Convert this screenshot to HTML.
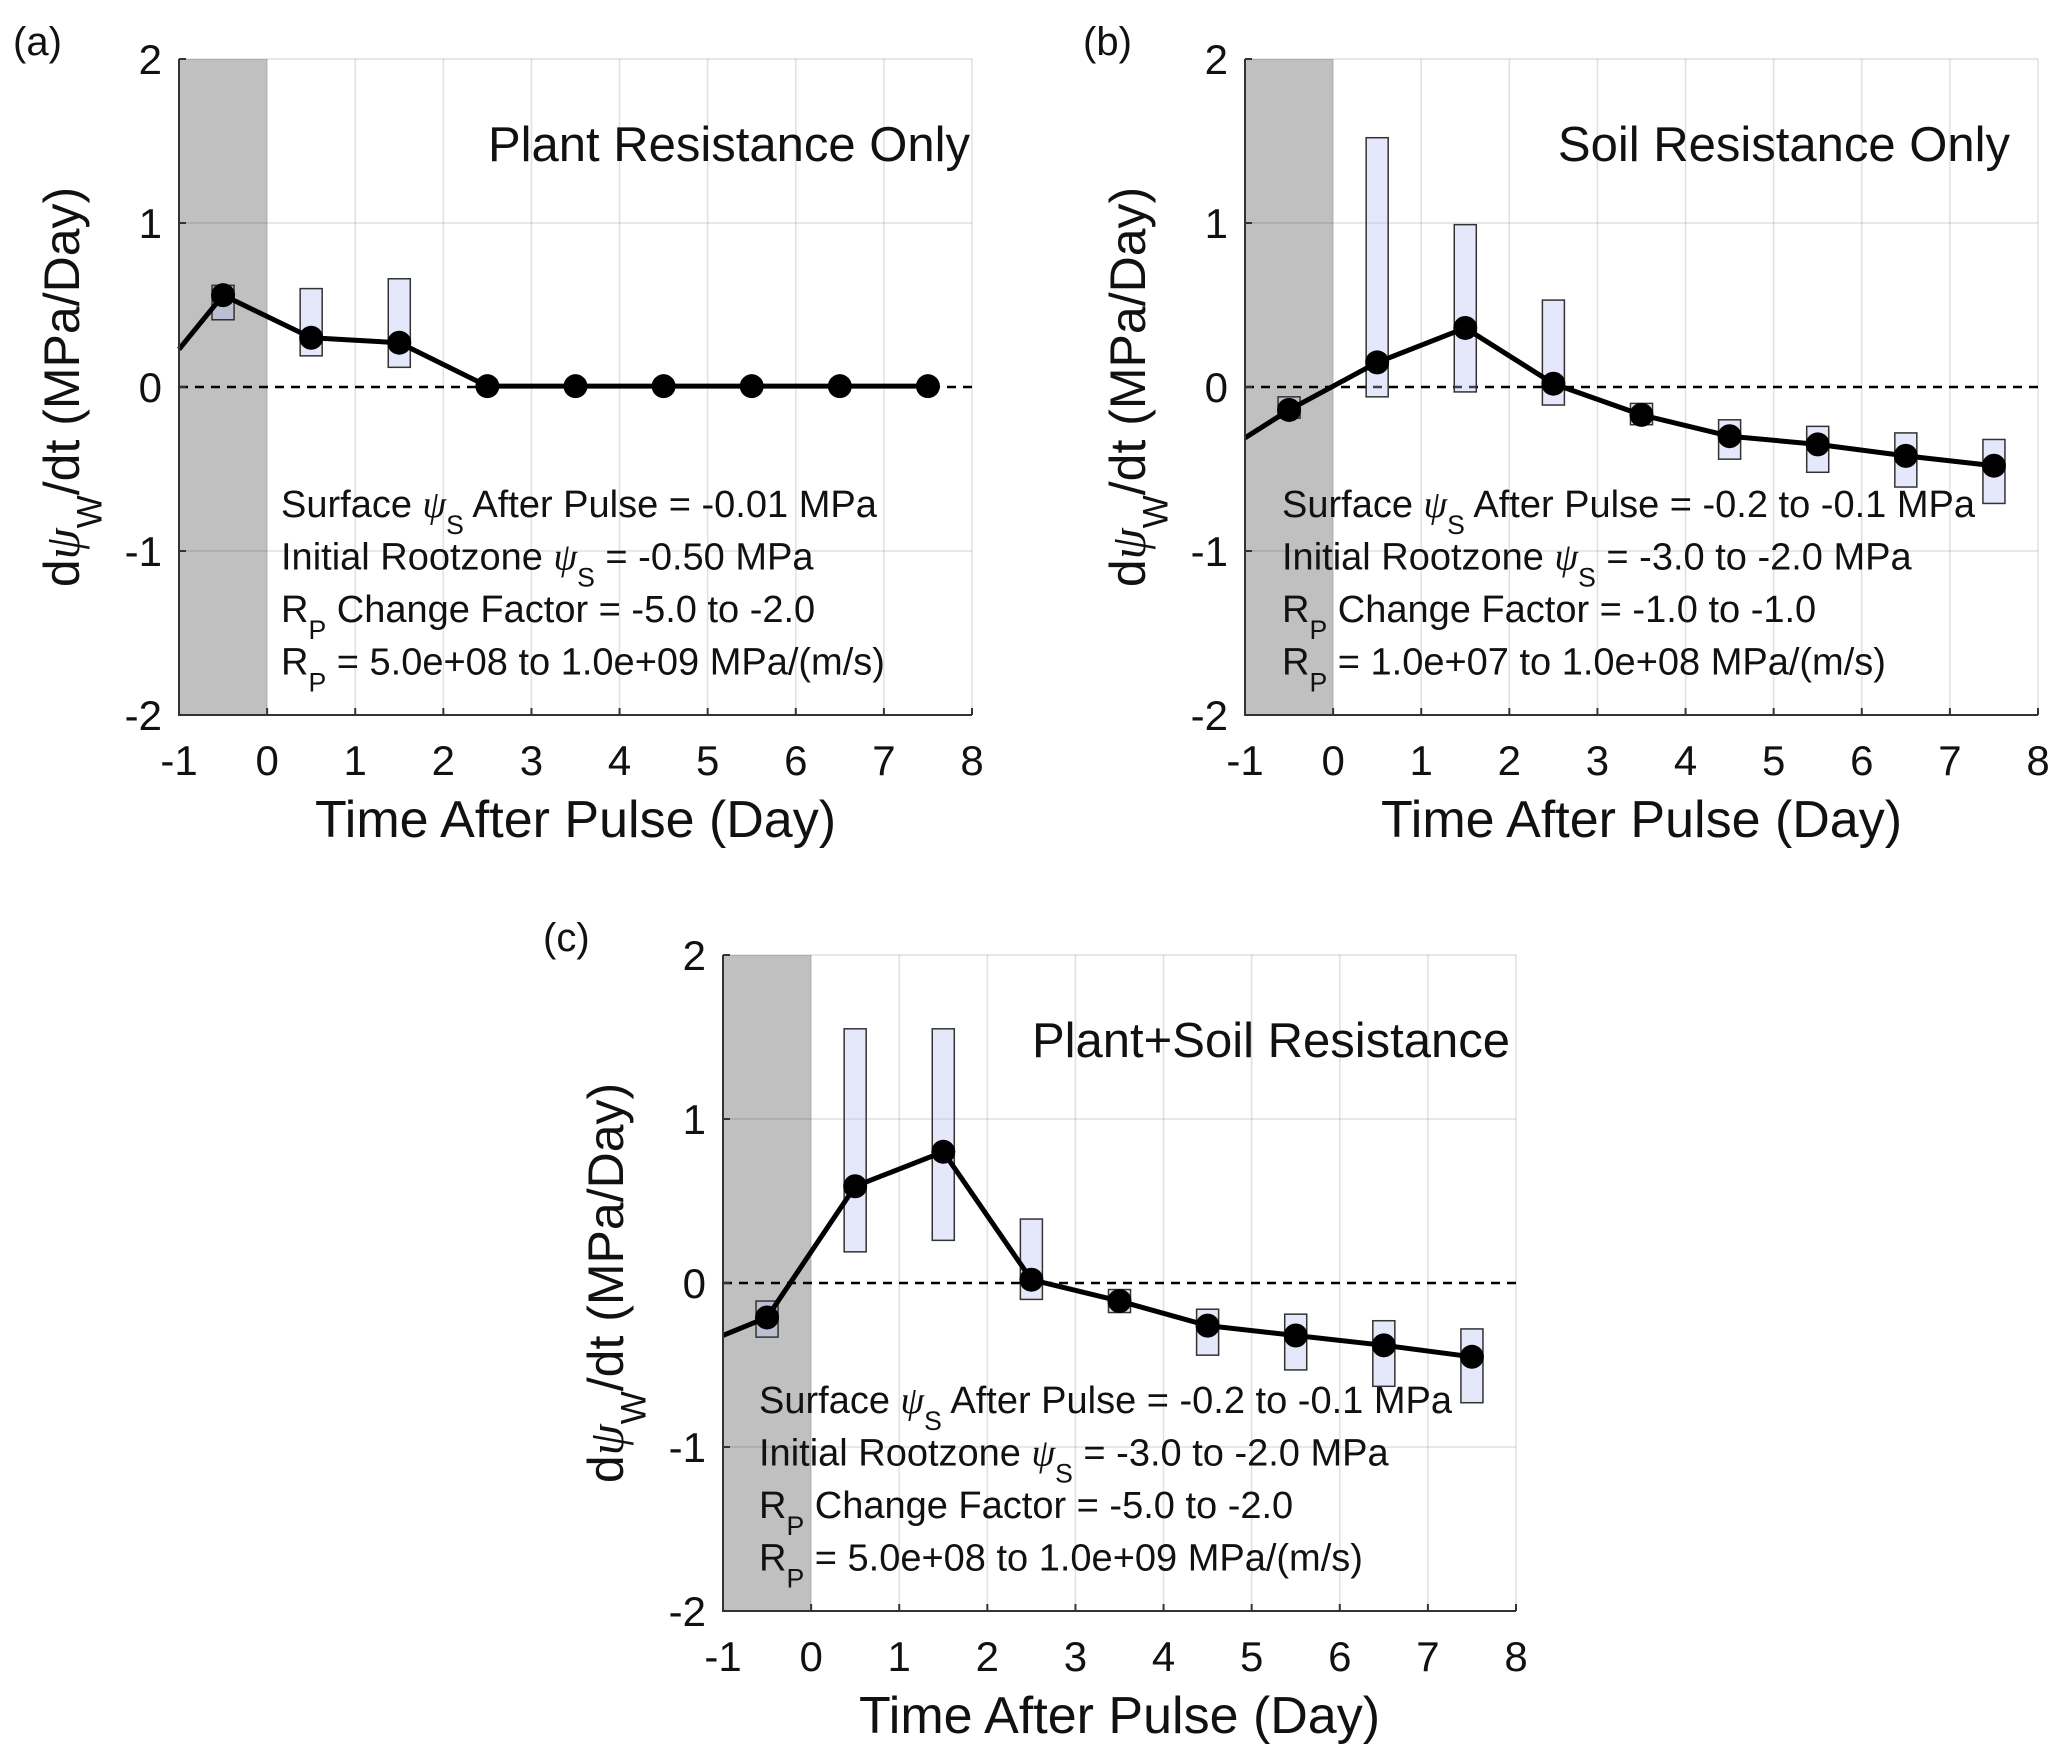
<!DOCTYPE html>
<html><head><meta charset="utf-8"><style>
html,body{margin:0;padding:0;background:#fff;}
svg{display:block;font-family:"Liberation Sans",Arial,sans-serif;}
</style></head><body>
<svg id="fig" width="2067" height="1761" viewBox="0 0 2067 1761" xmlns="http://www.w3.org/2000/svg"></svg>
<script>
const xTicks = [-1,0,1,2,3,4,5,6,7,8];
const yTicks = [-2,-1,0,1,2];
const xCats = [-0.5,0.5,1.5,2.5,3.5,4.5,5.5,6.5,7.5];

const aStart = 0.23;
const aVals = [0.56,0.30,0.27,0.005,0.005,0.005,0.005,0.005,0.005];
const aHigh = [0.62,0.60,0.66,0.005,0.005,0.005,0.005,0.005,0.005];
const aLow  = [0.41,0.19,0.12,0.005,0.005,0.005,0.005,0.005,0.005];

const bStart = -0.31;
const bVals = [-0.14,0.15,0.36,0.02,-0.17,-0.30,-0.35,-0.42,-0.48];
const bHigh = [-0.06,1.52,0.99,0.53,-0.10,-0.20,-0.24,-0.28,-0.32];
const bLow  = [-0.19,-0.06,-0.03,-0.11,-0.23,-0.44,-0.52,-0.61,-0.71];

const cStart = -0.32;
const cVals = [-0.21,0.59,0.80,0.02,-0.11,-0.26,-0.32,-0.38,-0.45];
const cHigh = [-0.11,1.55,1.55,0.39,-0.04,-0.16,-0.19,-0.23,-0.28];
const cLow  = [-0.33,0.19,0.26,-0.10,-0.18,-0.44,-0.53,-0.63,-0.73];

const NS='http://www.w3.org/2000/svg';
const svg=document.getElementById('fig');
function mk(tag,attrs,parent){const e=document.createElementNS(NS,tag);for(const k in attrs)e.setAttribute(k,attrs[k]);(parent||svg).appendChild(e);return e;}

function addText(parent,x,y,parts,size,anchor,rot){
  const g=mk('g',{transform:rot?`translate(${x},${y}) rotate(-90)`:`translate(${x},${y})`},parent);
  const t=mk('text',{x:0,y:0,'font-size':size,'text-anchor':anchor||'start',fill:'#111'},g);
  parts.forEach(p=>{
    const s=document.createElementNS(NS,'tspan');
    if(typeof p==='string'){s.textContent=p;}
    else{s.textContent=p.t;if(p.sub){s.setAttribute('font-size',size*0.7);s.setAttribute('dy',size*0.45);}
      if(p.psi){s.setAttribute('font-family','"Liberation Serif",serif');s.setAttribute('font-style','italic');}
      if(p.up){s.setAttribute('dy',-size*0.45);}}
    t.appendChild(s);
  });
  return g;
}

function panel(cfg){
  const {name,x0,x1,y0,y1,start,vals,high,low,title,lines,letter,lx,ly,ax0,tx}=cfg;
  const g=mk('g',{});
  
  
  const X=v=>x0+(v+1)/9*(x1-x0);
  const Y=v=>y1-(v+2)/4*(y1-y0);
  const sh=mk('rect',{x:X(-1),y:y0,width:X(0)-X(-1),height:y1-y0,fill:'#c0c0c0'},g);
  
  
  xTicks.forEach(v=>{
    const l=mk('line',{x1:X(v),x2:X(v),y1:y0,y2:y1,stroke:'#000','stroke-opacity':0.12,'stroke-width':1.5},g);
    
    
  });
  yTicks.forEach(v=>{
    if(v===0)return;
    const l=mk('line',{x1:x0,x2:x1,y1:Y(v),y2:Y(v),stroke:'#000','stroke-opacity':0.12,'stroke-width':1.5},g);
    
    
  });
  const z=mk('line',{x1:x0,x2:x1,y1:Y(0),y2:Y(0),stroke:'#000','stroke-width':2.5,'stroke-dasharray':'9,7'},g);
  
  
  xCats.forEach((c,i)=>{
    const hw=0.125*(X(1)-X(0));
    const top=Y(high[i]),bot=Y(low[i]);
    const r=mk('rect',{x:X(c)-hw,y:top,width:2*hw,height:Math.max(bot-top,0.5),fill:'rgb(180,185,240)','fill-opacity':0.35,stroke:'#333','stroke-width':1.5},g);
    
    
  });
  let d=`M${X(-1)},${Y(start)}`;
  xCats.forEach((c,i)=>{d+=` L${X(c)},${Y(vals[i])}`;});
  const p=mk('path',{d:d,fill:'none',stroke:'#000','stroke-width':5,'stroke-linejoin':'round'},g);
  
  
  xCats.forEach((c,i)=>{
    const m=mk('circle',{cx:X(c),cy:Y(vals[i]),r:12,fill:'#000'},g);
    
    
  });
  const ax=mk('path',{d:`M${x0},${y0} L${x0},${y1} L${x1},${y1}`,fill:'none',stroke:'#333','stroke-width':2},g);
  
  
  xTicks.forEach(v=>{
    mk('line',{x1:X(v),x2:X(v),y1:y1,y2:y1-7,stroke:'#333','stroke-width':2},g);
    const t=addText(g,X(v),y1+60,[String(v)],42,'middle');
    
    
  });
  yTicks.forEach(v=>{
    mk('line',{x1:x0,x2:x0+7,y1:Y(v),y2:Y(v),stroke:'#333','stroke-width':2},g);
    const t=addText(g,x0-17,Y(v)+15,[String(v)],42,'end');
    
    
  });
  const xl=addText(g,(x0+x1)/2,y1+122,['Time After Pulse (Day)'],52,'middle');
  
  
  const yl=addText(g,x0-100,(y0+y1)/2,['d',{t:'ψ',psi:1},{t:'W',sub:1},{t:'/dt (MPa/Day)',up:1}],50,'middle',true);
  
  
  const tt=addText(g,tx,y0+102,[title],49,'end');
  
  
  lines.forEach((ln,i)=>{
    const a=addText(g,ax0,y0+458+i*52.5,ln,38,'start');
    
    
  });
  const lt=addText(g,lx,ly,[letter],40,'start');
  
  
}

const psi={t:'ψ',psi:1}, S={t:'S',sub:1};
function up(t){return {t:t,up:1};}
const P={t:'P',sub:1};
panel({name:'a',x0:179,x1:972,y0:59,y1:715,start:aStart,vals:aVals,high:aHigh,low:aLow,ax0:281,tx:970,
 title:'Plant Resistance Only',letter:'(a)',lx:13,ly:55,
 lines:[['Surface ',psi,S,up(' After Pulse = -0.01 MPa')],['Initial Rootzone ',psi,S,up(' = -0.50 MPa')],['R',P,up(' Change Factor = -5.0 to -2.0')],['R',P,up(' = 5.0e+08 to 1.0e+09 MPa/(m/s)')]]});
panel({name:'b',x0:1245,x1:2038,y0:59,y1:715,start:bStart,vals:bVals,high:bHigh,low:bLow,ax0:1282,tx:2010,
 title:'Soil Resistance Only',letter:'(b)',lx:1083,ly:55,
 lines:[['Surface ',psi,S,up(' After Pulse = -0.2 to -0.1 MPa')],['Initial Rootzone ',psi,S,up(' = -3.0 to -2.0 MPa')],['R',P,up(' Change Factor = -1.0 to -1.0')],['R',P,up(' = 1.0e+07 to 1.0e+08 MPa/(m/s)')]]});
panel({name:'c',x0:723,x1:1516,y0:955,y1:1611,start:cStart,vals:cVals,high:cHigh,low:cLow,ax0:759,tx:1510,
 title:'Plant+Soil Resistance',letter:'(c)',lx:543,ly:951,
 lines:[['Surface ',psi,S,up(' After Pulse = -0.2 to -0.1 MPa')],['Initial Rootzone ',psi,S,up(' = -3.0 to -2.0 MPa')],['R',P,up(' Change Factor = -5.0 to -2.0')],['R',P,up(' = 5.0e+08 to 1.0e+09 MPa/(m/s)')]]});
</script>
</body></html>
